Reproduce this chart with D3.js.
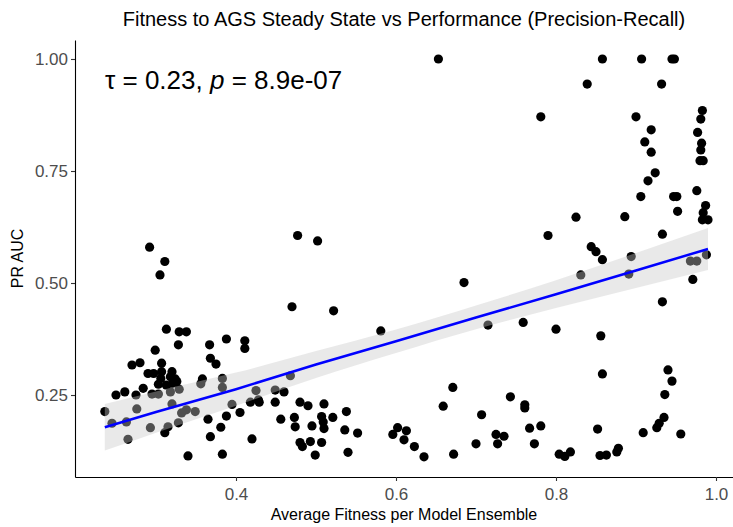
<!DOCTYPE html>
<html><head><meta charset="utf-8">
<script src="https://cdn.jsdelivr.net/npm/d3@7"></script>
<style>body{margin:0;background:#fff}svg{display:block}text{font-family:"Liberation Sans",Arial,Helvetica,sans-serif}</style>
</head><body><div id="chart"></div>
<script>
const titleText = "Fitness to AGS Steady State vs Performance (Precision-Recall)";
const xLabel = "Average Fitness per Model Ensemble";
const yLabel = "PR AUC";
const xTicks = [0.4, 0.6, 0.8, 1.0];
const xTickLabels = ["0.4", "0.6", "0.8", "1.0"];
const yTicks = [0.25, 0.5, 0.75, 1.0];
const yTickLabels = ["0.25", "0.50", "0.75", "1.00"];
const tau = "0.23";
const pValue = "8.9e-07";

// average fitness (x) and PR AUC (y) per model ensemble
const fitness = [0.236,0.245,0.250,0.261,0.263,0.265,0.270,0.275,0.276,0.280,0.284,0.290,0.292,0.293,0.295,0.297,0.299,0.303,0.303,0.305,
0.306,0.307,0.307,0.311,0.311,0.313,0.313,0.315,0.318,0.318,0.320,0.320,0.321,0.324,0.326,0.328,0.328,0.329,0.329,0.332,
0.338,0.338,0.340,0.349,0.356,0.358,0.365,0.367,0.368,0.368,0.375,0.381,0.383,0.383,0.383,0.388,0.388,0.395,0.405,0.411,
0.411,0.418,0.420,0.425,0.428,0.429,0.449,0.449,0.456,0.460,0.468,0.470,0.473,0.474,0.477,0.480,0.480,0.483,0.490,0.493,
0.495,0.499,0.502,0.507,0.507,0.509,0.510,0.510,0.522,0.521,0.536,0.538,0.540,0.552,0.581,0.596,0.602,0.610,0.613,0.623,
0.635,0.653,0.659,0.671,0.672,0.685,0.700,0.707,0.715,0.725,0.727,0.735,0.743,0.759,0.761,0.761,0.767,0.773,0.781,0.781,
0.790,0.800,0.804,0.811,0.818,0.825,0.831,0.839,0.844,0.850,0.852,0.855,0.856,0.858,0.858,0.858,0.863,0.876,0.878,0.886,
0.891,0.894,0.900,0.907,0.906,0.909,0.911,0.915,0.919,0.919,0.924,0.926,0.929,0.932,0.933,0.933,0.935,0.936,0.940,0.945,
0.948,0.945,0.947,0.951,0.952,0.956,0.968,0.971,0.976,0.976,0.977,0.981,0.981,0.980,0.984,0.982,0.983,0.983,0.984,0.987,
0.988,0.990];
const prAuc = [0.213,0.187,0.250,0.257,0.190,0.151,0.317,0.250,0.219,0.322,0.265,0.298,0.580,0.177,0.252,0.298,0.350,0.274,0.252,0.518,
0.287,0.321,0.302,0.548,0.166,0.397,0.272,0.179,0.291,0.257,0.302,0.230,0.276,0.286,0.280,0.362,0.188,0.391,0.263,0.210,
0.391,0.217,0.114,0.213,0.275,0.286,0.196,0.362,0.332,0.157,0.319,0.178,0.287,0.267,0.118,0.375,0.203,0.229,0.211,0.371,
0.354,0.234,0.152,0.260,0.239,0.234,0.261,0.234,0.196,0.257,0.293,0.447,0.200,0.179,0.606,0.234,0.144,0.135,0.226,0.146,
0.181,0.116,0.594,0.202,0.144,0.190,0.175,0.230,0.438,0.200,0.172,0.213,0.122,0.165,0.393,0.162,0.177,0.150,0.170,0.135,
0.112,1.000,0.225,0.267,0.118,0.501,0.141,0.206,0.406,0.162,0.141,0.158,0.246,0.412,0.228,0.221,0.176,0.141,0.181,0.871,
0.606,0.397,0.118,0.113,0.123,0.647,0.518,0.944,0.581,0.570,0.174,0.115,0.382,1.000,0.552,0.297,0.116,0.123,0.131,0.648,
0.520,0.559,0.871,1.000,0.693,0.166,0.815,0.728,0.792,0.842,0.746,0.177,0.187,0.944,0.609,0.458,0.200,0.251,0.306,1.000,
1.000,0.281,0.693,0.693,0.660,0.163,0.549,0.508,0.549,0.706,0.836,0.866,0.797,0.773,0.773,0.812,0.885,0.641,0.657,0.673,
0.563,0.641];

// linear fit with 95% confidence band
const fitX = [0.236, 0.30, 0.40, 0.50, 0.60, 0.70, 0.80, 0.90, 0.990];
const fitY = [0.178, 0.212, 0.263, 0.318, 0.370, 0.423, 0.475, 0.528, 0.576];
const fitLo = [0.126, 0.166, 0.226, 0.288, 0.344, 0.397, 0.444, 0.489, 0.529];
const fitHi = [0.230, 0.258, 0.300, 0.348, 0.396, 0.450, 0.506, 0.567, 0.623];

const W = 733, H = 527;
const m = {left: 75, right: 0, top: 40, bottom: 50};
const svg = d3.select("#chart").append("svg").attr("width", W).attr("height", H);

const x = d3.scaleLinear().domain([0.19875, 1.02125]).range([m.left, W - m.right]);
const y = d3.scaleLinear().domain([0.067, 1.0424]).range([H - m.bottom, m.top]);

const pts = fitness.map((f, i) => ({x: f, y: prAuc[i]}));
svg.append("g").selectAll("circle").data(pts).join("circle")
  .attr("cx", d => x(d.x)).attr("cy", d => y(d.y)).attr("r", 4.6).attr("fill", "#000");

const band = fitX.map((v, i) => ({x: v, lo: fitLo[i], hi: fitHi[i], y: fitY[i]}));
svg.append("path").datum(band)
  .attr("d", d3.area().x(d => x(d.x)).y0(d => y(d.lo)).y1(d => y(d.hi)).curve(d3.curveMonotoneX))
  .attr("fill", "#c8c8c8").attr("fill-opacity", 0.4);
svg.append("path").datum(band)
  .attr("d", d3.line().x(d => x(d.x)).y(d => y(d.y)))
  .attr("fill", "none").attr("stroke", "#0000ff").attr("stroke-width", 2.5);

const xAxis = svg.append("g").attr("transform", `translate(0,${H - m.bottom})`)
  .call(d3.axisBottom(x).tickValues(xTicks).tickFormat((d, i) => xTickLabels[i]).tickSize(4).tickSizeOuter(0));
const yAxis = svg.append("g").attr("transform", `translate(${m.left},0)`)
  .call(d3.axisLeft(y).tickValues(yTicks).tickFormat((d, i) => yTickLabels[i]).tickSize(4).tickSizeOuter(0));
[xAxis, yAxis].forEach(g => {
  g.select(".domain").attr("stroke", "#000").attr("stroke-width", 1.1);
  g.selectAll(".tick line").attr("stroke", "#333").attr("stroke-width", 1.1);
  g.selectAll(".tick text").attr("fill", "#4d4d4d").attr("font-size", 17);
});
xAxis.selectAll(".tick text").attr("dy", "0.95em");

svg.append("text").attr("x", (m.left + W - m.right) / 2).attr("y", 26)
  .attr("text-anchor", "middle").attr("font-size", 20).attr("fill", "#000").text(titleText);
svg.append("text").attr("x", (m.left + W - m.right) / 2).attr("y", 520)
  .attr("text-anchor", "middle").attr("font-size", 16).attr("fill", "#000").text(xLabel);
svg.append("text").attr("transform", `translate(23,${(m.top + H - m.bottom) / 2}) rotate(-90)`)
  .attr("text-anchor", "middle").attr("font-size", 16).attr("fill", "#000").text(yLabel);

const ann = svg.append("text").attr("x", 105).attr("y", 89).attr("font-size", 26).attr("fill", "#000");
ann.append("tspan").text("\u03c4 = " + tau + ", ");
ann.append("tspan").attr("font-style", "italic").text("p");
ann.append("tspan").text(" = " + pValue);
</script></body></html>
